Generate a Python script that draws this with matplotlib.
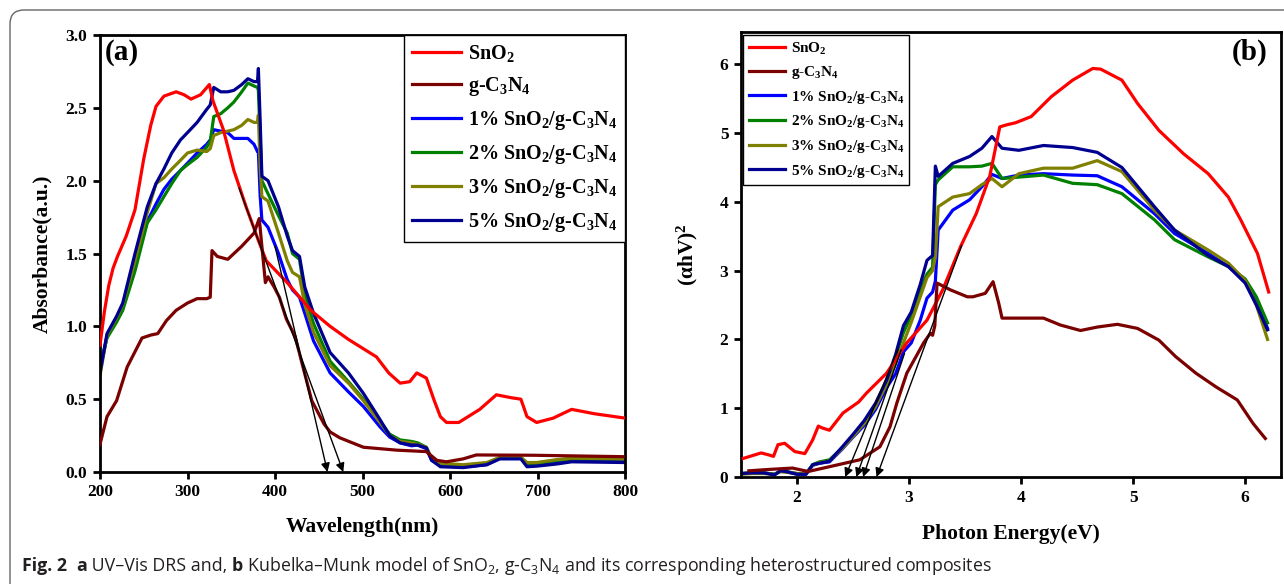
import numpy as np
import matplotlib
matplotlib.use('Agg')
import matplotlib.pyplot as plt
from matplotlib.patches import FancyBboxPatch
from matplotlib.transforms import IdentityTransform

plt.rcParams['font.family'] = ['Liberation Serif', 'DejaVu Serif']
plt.rcParams['font.weight'] = 'bold'
plt.rcParams['axes.labelweight'] = 'bold'
plt.rcParams['mathtext.default'] = 'regular'

# ---------------- panel (a): UV-Vis DRS ----------------
wl_sno2 = [200, 205, 210, 215, 220, 230, 240, 250, 258, 264, 273, 287, 296, 304, 315,
           325, 329, 341, 353, 367, 381, 390, 414, 441, 463, 484, 500, 516, 530, 543,
           554, 562, 573, 582, 589, 596, 610, 634, 653, 670, 681, 688, 699, 718, 739,
           765, 800]
abs_sno2 = [0.87, 1.10, 1.28, 1.40, 1.48, 1.62, 1.80, 2.15, 2.38, 2.51, 2.58, 2.61, 2.59, 2.56, 2.59,
            2.66, 2.55, 2.35, 2.07, 1.82, 1.59, 1.45, 1.30, 1.11, 1.00, 0.91, 0.85, 0.79, 0.68, 0.61,
            0.62, 0.68, 0.645, 0.49, 0.38, 0.34, 0.34, 0.43, 0.53, 0.51, 0.50, 0.38, 0.34, 0.37, 0.43,
            0.40, 0.37]

wl_gcn = [200, 208, 219, 231, 248, 258, 266, 276, 287, 300, 311, 322, 326, 328, 334,
          346, 362, 376, 382, 385, 389, 392, 399, 405, 413, 423, 432, 442, 456, 463,
          474, 501, 539, 573, 585, 596, 615, 630, 695, 800]
abs_gcn = [0.19, 0.38, 0.49, 0.72, 0.92, 0.94, 0.95, 1.04, 1.11, 1.16, 1.19, 1.19, 1.20, 1.52, 1.48,
           1.46, 1.55, 1.64, 1.74, 1.55, 1.30, 1.34, 1.27, 1.20, 1.05, 0.93, 0.72, 0.49, 0.33, 0.275,
           0.235, 0.17, 0.15, 0.14, 0.08, 0.07, 0.09, 0.117, 0.115, 0.105]

wl_comp = [200, 208, 219, 226, 240, 254, 264, 273, 282, 292, 300, 311, 322, 326, 330,
           338, 346, 353, 362, 369, 376, 380, 381, 383, 385, 392, 404, 414, 420, 428,
           434, 444, 463, 484, 501, 520, 531, 543, 556, 563, 573, 579, 589, 615, 642,
           657, 681, 688, 699, 722, 739, 800]
abs_1pct = [0.70, 0.93, 1.05, 1.13, 1.42, 1.72, 1.84, 1.94, 2.01, 2.07, 2.12, 2.19, 2.25, 2.28, 2.35,
            2.34, 2.33, 2.29, 2.29, 2.29, 2.25, 2.20, 2.20, 1.90, 1.73, 1.68, 1.50, 1.32, 1.25, 1.20,
            1.09, 0.90, 0.68, 0.55, 0.45, 0.31, 0.24, 0.20, 0.18, 0.185, 0.16, 0.08, 0.05, 0.036, 0.05,
            0.095, 0.095, 0.05, 0.05, 0.07, 0.08, 0.075]
abs_2pct = [0.72, 0.92, 1.03, 1.11, 1.38, 1.71, 1.80, 1.89, 1.98, 2.07, 2.11, 2.16, 2.23, 2.27, 2.44,
            2.46, 2.50, 2.54, 2.61, 2.67, 2.65, 2.64, 2.62, 2.30, 2.00, 1.91, 1.76, 1.64, 1.50, 1.46,
            1.22, 1.02, 0.76, 0.62, 0.50, 0.35, 0.26, 0.22, 0.21, 0.20, 0.17, 0.09, 0.055, 0.045, 0.06,
            0.10, 0.10, 0.06, 0.06, 0.08, 0.09, 0.09]
abs_3pct = [0.66, 0.94, 1.06, 1.15, 1.45, 1.78, 1.98, 2.02, 2.08, 2.14, 2.19, 2.21, 2.20, 2.22, 2.31,
            2.33, 2.34, 2.35, 2.38, 2.42, 2.40, 2.40, 2.45, 2.10, 1.89, 1.86, 1.64, 1.45, 1.37, 1.34,
            1.15, 0.96, 0.73, 0.61, 0.49, 0.34, 0.25, 0.21, 0.20, 0.19, 0.17, 0.09, 0.06, 0.05, 0.065,
            0.10, 0.10, 0.065, 0.065, 0.085, 0.095, 0.09]
abs_5pct = [0.68, 0.95, 1.07, 1.16, 1.50, 1.82, 1.98, 2.08, 2.19, 2.28, 2.33, 2.40, 2.49, 2.52, 2.64,
            2.61, 2.61, 2.62, 2.66, 2.70, 2.68, 2.68, 2.77, 2.42, 2.03, 2.00, 1.82, 1.62, 1.52, 1.48,
            1.27, 1.09, 0.82, 0.68, 0.54, 0.36, 0.25, 0.20, 0.185, 0.185, 0.165, 0.08, 0.036, 0.03, 0.05,
            0.09, 0.09, 0.036, 0.04, 0.055, 0.07, 0.065]

# band-edge tangents (start, end) in data units
tangents_a = [((359, 1.95), (478, 0.0)), ((400, 1.55), (460, 0.0))]

# ---------------- panel (b): Kubelka-Munk ----------------
ev_sno2 = [1.52, 1.60, 1.68, 1.75, 1.79, 1.83, 1.89, 1.98, 2.07, 2.14, 2.19, 2.23, 2.29, 2.41, 2.55,
           2.62, 2.80, 2.98, 3.16, 3.30, 3.46, 3.60, 3.72, 3.78, 3.81, 3.87, 3.95, 4.09, 4.27, 4.46,
           4.64, 4.71, 4.90, 5.04, 5.23, 5.45, 5.67, 5.85, 5.96, 6.11, 6.21]
km_sno2 = [0.27, 0.31, 0.35, 0.32, 0.30, 0.47, 0.49, 0.37, 0.34, 0.54, 0.74, 0.71, 0.68, 0.93, 1.09,
           1.22, 1.51, 1.95, 2.28, 2.72, 3.35, 3.83, 4.37, 4.85, 5.09, 5.12, 5.15, 5.24, 5.53, 5.77,
           5.94, 5.93, 5.77, 5.43, 5.04, 4.70, 4.41, 4.07, 3.74, 3.25, 2.69]

ev_gcn = [1.57, 1.75, 1.96, 2.10, 2.29, 2.56, 2.74, 2.83, 2.89, 2.98, 3.13, 3.19, 3.21, 3.23, 3.25,
          3.37, 3.52, 3.57, 3.68, 3.75, 3.80, 3.83, 4.09, 4.20, 4.35, 4.53, 4.68, 4.86, 5.04, 5.23,
          5.38, 5.56, 5.74, 5.93, 6.07, 6.18]
km_gcn = [0.09, 0.11, 0.13, 0.08, 0.15, 0.25, 0.44, 0.73, 1.07, 1.51, 1.95, 2.09, 2.06, 2.20, 2.82,
          2.72, 2.62, 2.62, 2.67, 2.84, 2.53, 2.31, 2.31, 2.31, 2.21, 2.13, 2.18, 2.22, 2.16, 1.99,
          1.75, 1.51, 1.31, 1.12, 0.78, 0.56]

ev_comp = [1.50, 1.60, 1.70, 1.80, 1.85, 1.90, 2.00, 2.08, 2.14, 2.20, 2.29, 2.40, 2.50, 2.60, 2.70,
           2.80, 2.88, 2.95, 3.02, 3.10, 3.16, 3.21, 3.235, 3.26, 3.39, 3.54, 3.65, 3.74, 3.83, 3.98,
           4.20, 4.46, 4.68, 4.90, 5.19, 5.37, 5.67, 5.85, 6.00, 6.10, 6.20]
km_1pct = [0.05, 0.06, 0.06, 0.04, 0.08, 0.08, 0.04, 0.04, 0.17, 0.20, 0.22, 0.40, 0.58, 0.75, 0.98,
           1.30, 1.50, 1.82, 1.95, 2.28, 2.60, 2.69, 2.85, 3.59, 3.88, 4.03, 4.22, 4.40, 4.34, 4.39,
           4.41, 4.39, 4.38, 4.22, 3.83, 3.54, 3.25, 3.06, 2.86, 2.55, 2.16]
km_2pct = [0.05, 0.06, 0.06, 0.04, 0.08, 0.08, 0.05, 0.05, 0.18, 0.22, 0.25, 0.42, 0.60, 0.80, 1.05,
           1.38, 1.75, 2.10, 2.35, 2.72, 2.95, 3.05, 4.25, 4.32, 4.51, 4.51, 4.52, 4.56, 4.34, 4.36,
           4.39, 4.27, 4.25, 4.12, 3.74, 3.45, 3.20, 3.06, 2.88, 2.62, 2.24]
km_3pct = [0.04, 0.05, 0.05, 0.04, 0.08, 0.07, 0.05, 0.05, 0.17, 0.21, 0.23, 0.41, 0.59, 0.78, 1.02,
           1.35, 1.65, 1.95, 2.25, 2.62, 2.90, 3.00, 3.20, 3.93, 4.07, 4.12, 4.25, 4.34, 4.22, 4.41,
           4.49, 4.49, 4.60, 4.44, 3.88, 3.59, 3.30, 3.11, 2.86, 2.50, 2.00]
km_5pct = [0.05, 0.06, 0.06, 0.03, 0.09, 0.08, 0.04, 0.04, 0.18, 0.20, 0.23, 0.43, 0.62, 0.82, 1.07,
           1.41, 1.78, 2.20, 2.40, 2.80, 3.15, 3.22, 4.52, 4.37, 4.56, 4.66, 4.78, 4.95, 4.78, 4.75,
           4.82, 4.79, 4.72, 4.50, 3.93, 3.59, 3.22, 3.06, 2.82, 2.50, 2.14]

tangents_b = [((2.90, 1.85), (2.43, 0.0)), ((2.93, 1.85), (2.53, 0.0)),
              ((2.96, 1.80), (2.59, 0.0)), ((3.47, 3.37), (2.71, 0.0))]

labels = ['SnO$_2$', 'g-C$_3$N$_4$', '1% SnO$_2$/g-C$_3$N$_4$', '2% SnO$_2$/g-C$_3$N$_4$',
          '3% SnO$_2$/g-C$_3$N$_4$', '5% SnO$_2$/g-C$_3$N$_4$']
colors = ['#FF0000', '#7B0000', '#0000FF', '#008000', '#808000', '#000090']
zorders = [3, 4, 2, 2.1, 2.2, 2.3]

W, H = 1284, 584
fig = plt.figure(figsize=(W / 100, H / 100), dpi=100)
ax1 = fig.add_axes([100 / W, 1 - 472 / H, 525 / W, 437 / H])
ax2 = fig.add_axes([741 / W, 1 - 477 / H, 540 / W, 445 / H])

series_a = [(wl_sno2, abs_sno2), (wl_gcn, abs_gcn), (wl_comp, abs_1pct),
            (wl_comp, abs_2pct), (wl_comp, abs_3pct), (wl_comp, abs_5pct)]
series_b = [(ev_sno2, km_sno2), (ev_gcn, km_gcn), (ev_comp, km_1pct),
            (ev_comp, km_2pct), (ev_comp, km_3pct), (ev_comp, km_5pct)]

for (x, y), lab, c, z in zip(series_a, labels, colors, zorders):
    ax1.plot(x, y, color=c, lw=2.3, label=lab, zorder=z, solid_joinstyle='round')
for (x, y), lab, c, z in zip(series_b, labels, colors, zorders):
    ax2.plot(x, y, color=c, lw=2.3, label=lab, zorder=z, solid_joinstyle='round')

for ax, tans in [(ax1, tangents_a), (ax2, tangents_b)]:
    for start, end in tans:
        ax.annotate('', xy=end, xytext=start, zorder=6,
                    arrowprops=dict(arrowstyle='-|>', color='k', lw=1.0,
                                    mutation_scale=13, shrinkA=0, shrinkB=0))

ax1.set_xlim(200, 800)
ax1.set_ylim(0, 3.0)
ax1.set_xticks(np.arange(200, 801, 100))
ax1.set_yticks(np.arange(0, 3.01, 0.5))
ax1.set_yticklabels(['%.1f' % v for v in np.arange(0, 3.01, 0.5)])
ax1.set_xlabel('Wavelength(nm)', fontsize=15.5, labelpad=12)
ax1.set_ylabel('Absorbance(a.u.)', fontsize=15.5, labelpad=10)
ax1.text(0.01, 0.99, '(a)', transform=ax1.transAxes, fontsize=21, va='top', ha='left')

ax2.set_xlim(1.5, 6.32)
ax2.set_ylim(0, 6.47)
ax2.set_xticks([2, 3, 4, 5, 6])
ax2.set_yticks([0, 1, 2, 3, 4, 5, 6])
ax2.set_xlabel('Photon Energy(eV)', fontsize=15.5, labelpad=13)
ax2.set_ylabel('(αhV)$^2$', fontsize=15.5, labelpad=14)
ax2.text(0.975, 0.985, '(b)', transform=ax2.transAxes, fontsize=21, va='top', ha='right')

for ax in (ax1, ax2):
    for s in ax.spines.values():
        s.set_linewidth(2.0)
    ax.tick_params(direction='out', length=5, width=2, labelsize=12.5, pad=4,
                   top=False, right=False)

leg1 = ax1.legend(loc='upper right', bbox_to_anchor=(1.0, 1.0), borderaxespad=0, fancybox=False,
                  edgecolor='k', framealpha=1, fontsize=14.5, handlelength=2.4, handletextpad=0.35,
                  labelspacing=0.55, borderpad=0.4)
leg1.get_frame().set_linewidth(1.0)
leg2 = ax2.legend(loc='upper left', bbox_to_anchor=(0.004, 0.993), borderaxespad=0, fancybox=False,
                  edgecolor='k', framealpha=1, fontsize=11, handlelength=2.4, handletextpad=0.35,
                  labelspacing=0.5, borderpad=0.35)
leg2.get_frame().set_linewidth(1.0)

# outer frame of the figure panel
frame = FancyBboxPatch((10, -30), 1330, H - 10 + 30, boxstyle='round,pad=0,rounding_size=14',
                       transform=IdentityTransform(), fill=False, edgecolor='#666666', lw=1.0)
fig.patches.append(frame)

# caption, mixed bold / regular
cap_parts = [('Fig. 2', 'bold'), ('  ', 'normal'), ('a', 'bold'), (' UV–Vis DRS and, ', 'normal'),
             ('b', 'bold'),
             (' Kubelka–Munk model of SnO$_2$, g-C$_3$N$_4$ and its corresponding heterostructured composites',
              'normal')]
fig.canvas.draw()
renderer = fig.canvas.get_renderer()
x = 22 / W
for txt, w in cap_parts:
    t = fig.text(x, 13 / H, txt, fontsize=12.8, weight=w, color='#231F20',
                 family=['Open Sans', 'DejaVu Sans'], va='baseline', ha='left')
    x += t.get_window_extent(renderer).width / W

fig.savefig('out.png', dpi=100)
